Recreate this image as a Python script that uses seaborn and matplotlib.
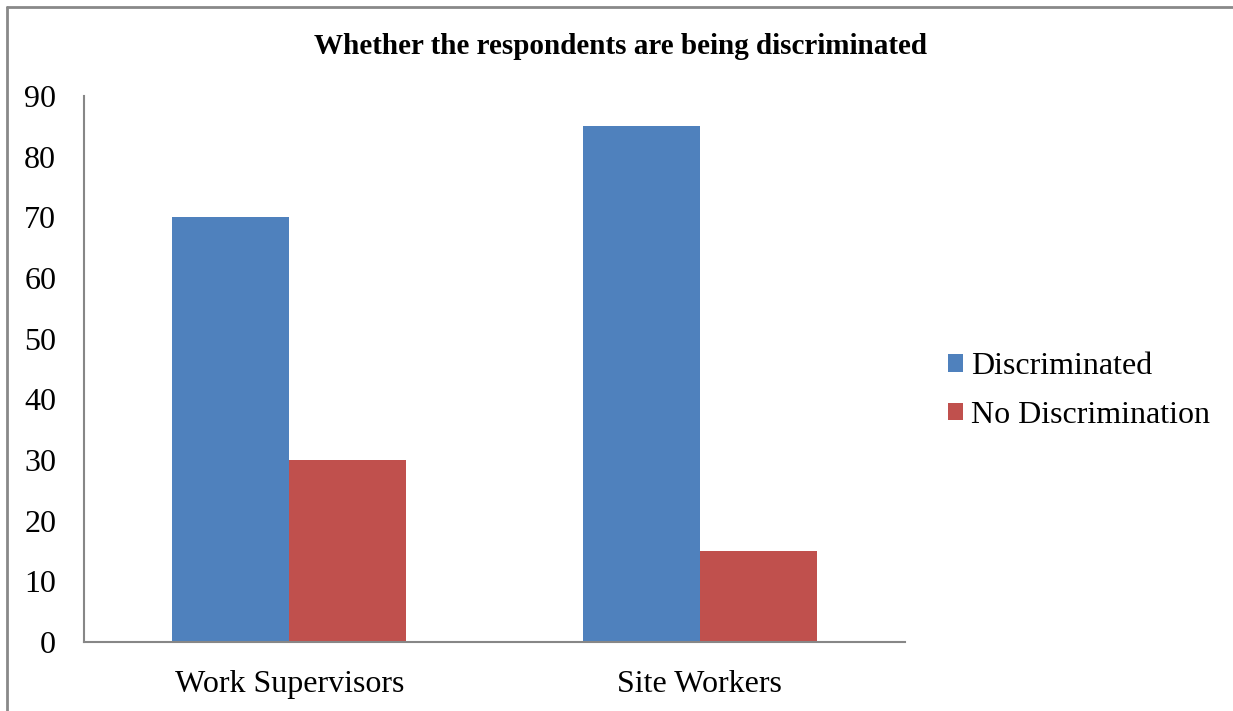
import matplotlib
matplotlib.use("Agg")
import matplotlib.pyplot as plt
from matplotlib.lines import Line2D
from matplotlib.patches import Patch
import pandas as pd
import seaborn as sns

categories = ["Work Supervisors", "Site Workers"]
series_names = ["Discriminated", "No Discrimination"]
discriminated = [70, 85]
no_discrimination = [30, 15]
y_ticks = [0, 10, 20, 30, 40, 50, 60, 70, 80, 90]
title = "Whether the respondents are being discriminated"

colors = ["#4F81BD", "#C0504D"]

df = pd.DataFrame({
    "group": categories * 2,
    "answer": [series_names[0]] * len(categories) + [series_names[1]] * len(categories),
    "value": discriminated + no_discrimination,
})

sns.set_theme(style="white")
plt.rcParams["font.family"] = ["Liberation Serif", "DejaVu Serif"]
plt.rcParams["text.color"] = "black"

W, H = 1233, 711
fig = plt.figure(figsize=(W / 100, H / 100), dpi=100)
ax = fig.add_axes([84 / W, 1 - 642 / H, (905 - 84) / W, (642 - 96) / H])

sns.barplot(data=df, x="group", y="value", hue="answer", order=categories,
            hue_order=series_names, palette=colors, width=0.57, saturation=1,
            edgecolor="none", linewidth=0, ax=ax, legend=False)

ax.set_xlim(-0.5, 1.5)
ax.set_ylim(0, 90)
ax.set_yticks(y_ticks)
ax.set_xlabel("")
ax.set_ylabel("")
ax.tick_params(axis="both", length=0, labelsize=23, colors="black")
ax.tick_params(axis="y", pad=20)
ax.tick_params(axis="x", pad=20)
for side in ["top", "right"]:
    ax.spines[side].set_visible(False)
for side in ["left", "bottom"]:
    ax.spines[side].set_color("#878787")
    ax.spines[side].set_linewidth(1.5)

fig.text(0.503, 1 - 47 / H, title, ha="center", va="center",
         fontsize=21, fontweight="bold", color="black")

handles = [Patch(facecolor=c, edgecolor="none") for c in colors]
fig.legend(handles, series_names, loc="center left",
           bbox_to_anchor=(932 / W, 1 - 391 / H), frameon=False,
           fontsize=23, handlelength=0.48, handleheight=0.48,
           handletextpad=0.25, labelspacing=0.62, borderpad=0,
           labelcolor="black")

# Chart frame (left and top edges)
fig.add_artist(Line2D([7 / W, 7 / W], [0, 1 - 7 / H], transform=fig.transFigure,
                      color="#898989", linewidth=2))
fig.add_artist(Line2D([7 / W, 1], [1 - 7 / H, 1 - 7 / H], transform=fig.transFigure,
                      color="#898989", linewidth=2))

fig.savefig("out.png", dpi=100, facecolor="white")
